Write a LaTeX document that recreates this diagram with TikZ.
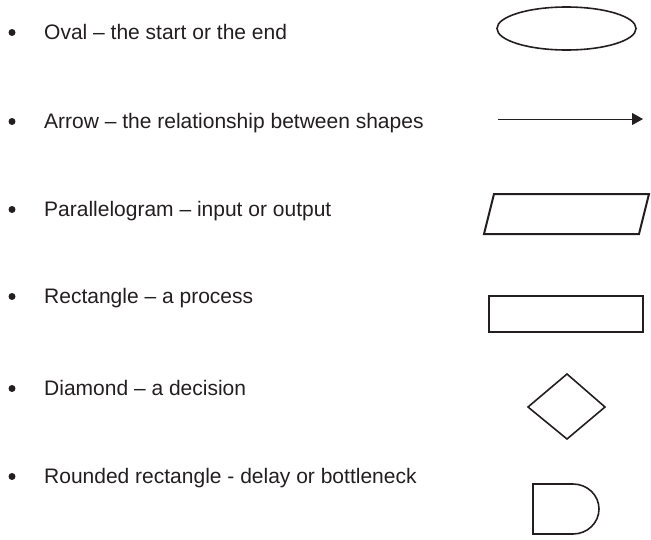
\documentclass[tikz,border=0pt]{standalone}
\usepackage{fontspec}
\setmainfont{Liberation Sans}
\usetikzlibrary{arrows.meta,shapes.geometric,positioning}
\definecolor{ink}{HTML}{231F20}

\begin{document}
\begin{tikzpicture}[x=1pt,y=-1pt]
	% Options for the whole picture, one pixel of the page is one point here
	\tikzset{
	        every node/.style={text=ink, font=\fontsize{21}{25}\selectfont}, % size of the list text
	        item/.style={anchor=base west, inner sep=0pt}, % the entries sit on their baseline
	        dot/.style={circle, fill=ink, inner sep=0pt, minimum size=7pt}, % the bullets in front of them
	        symbol/.style={draw=ink, line width=1.6pt, line join=miter}, % outline of each flowchart shape
	        >={Triangle[length=11pt, width=12pt]}, % head of the sample arrow
	}
	\useasboundingbox (0,0) rectangle (651,539);
	% The list on the left, one baseline per shape
	\foreach \name/\y/\txt in {oval/39/{Oval -- the start or the end},
	                           arrow/128/{Arrow -- the relationship between shapes},
	                           para/216/{Parallelogram -- input or output},
	                           rect/303/{Rectangle -- a process},
	                           diam/395/{Diamond -- a decision},
	                           delay/483/{Rounded rectangle - delay or bottleneck}}{
	    \node[item] (\name) at (44,\y) {\txt};
	    \node[dot] (\name dot) at (12,\y-6.5) {};
	}
	% The shapes on the right
	\node[symbol, ellipse, minimum width=139pt, minimum height=43pt, inner sep=0pt] (ovalsym) at (566.5,28.5) {};
	\coordinate (arrowtail) at (498,119);
	\coordinate (arrowtip) at (643,119);
	\draw[->, draw=ink, fill=ink, line width=1pt] (arrowtail) -- (arrowtip);
	\draw[symbol, line width=2pt] (494,194) -- (649,194) -- (639,234) -- (484,234) -- cycle;
	\draw[symbol, line width=2pt] (489,296) rectangle (643,332);
	\draw[symbol] (567,374) -- (605,407) -- (567,439) -- (528,407) -- cycle;
	% Half round end on the right for the delay
	\draw[symbol] (533,534) -- (533,484) -- (573,484) arc[start angle=-90, end angle=90, x radius=26, y radius=25] -- cycle;
\end{tikzpicture}
\end{document}
